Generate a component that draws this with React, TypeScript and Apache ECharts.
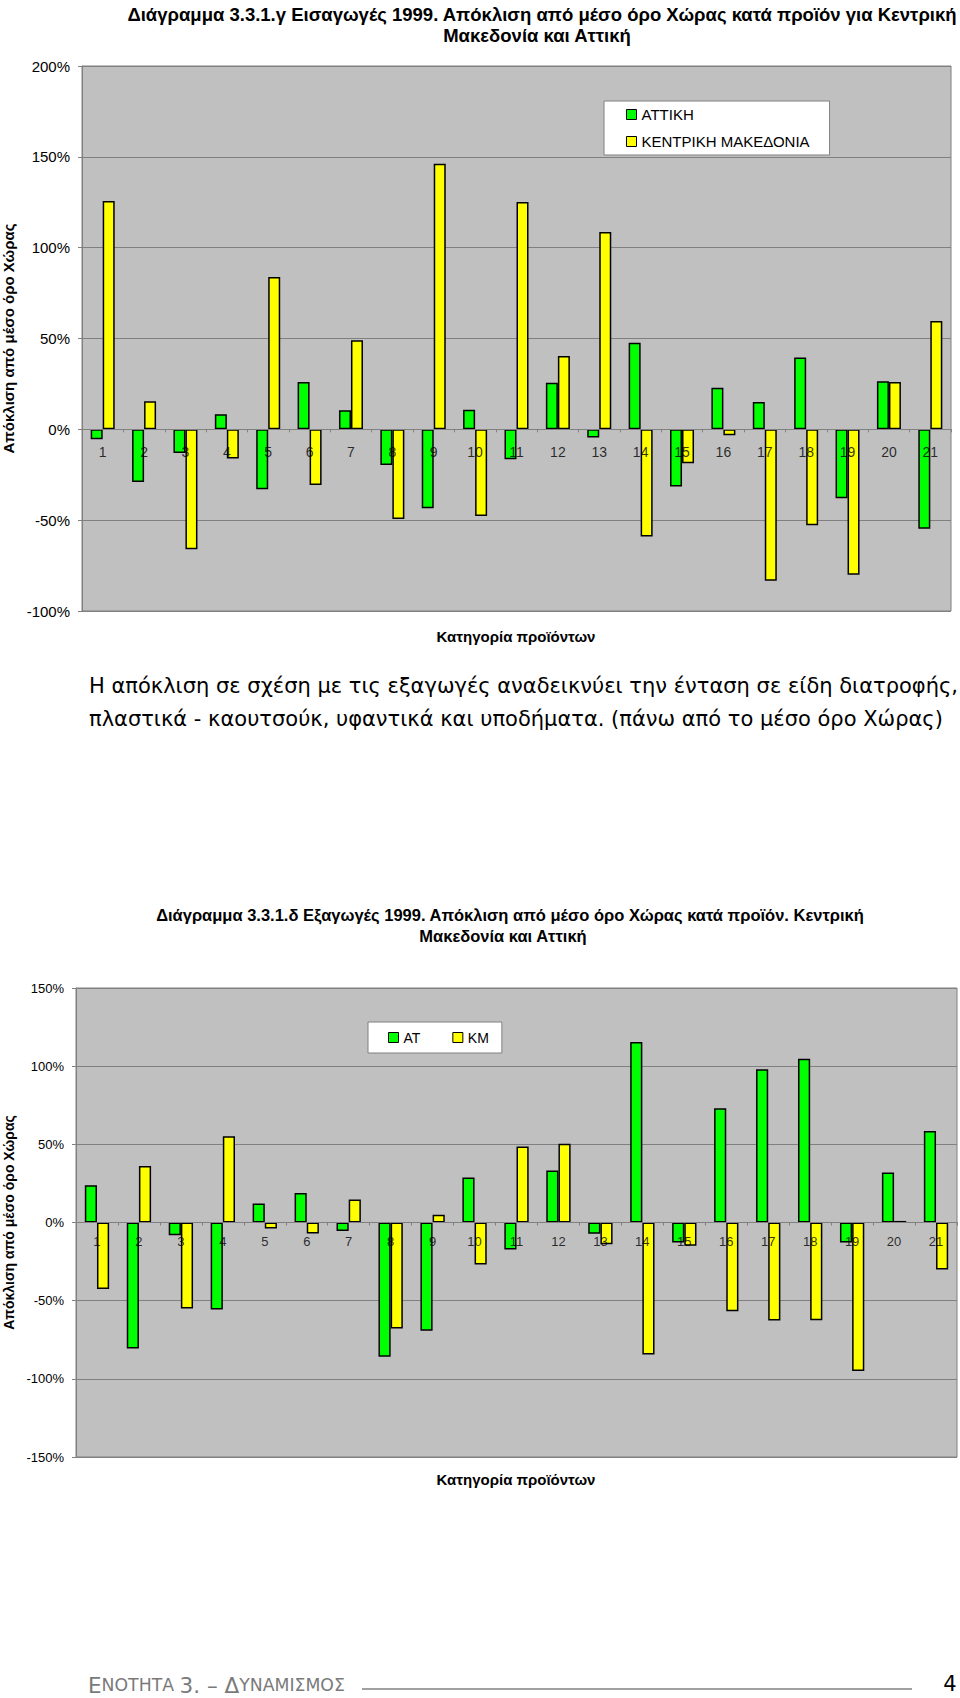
import React, { useEffect, useRef } from "react";
import * as echarts from "echarts";

const categories = ["1", "2", "3", "4", "5", "6", "7", "8", "9", "10", "11", "12", "13", "14", "15", "16", "17", "18", "19", "20", "21"];

// Chart 1: Imports 1999 (deviation from national average, %)
const importsAttiki = [-5.5, -29, -13, 8.3, -33, 26, 10.5, -19.6, -43.5, 10.8, -16.5, 25.7, -4.5, 47.7, -31.4, 22.9, 15, 39.6, -38, 26.4, -54.7];
const importsKMakedonia = [125.7, 15.4, -66, -16, 83.9, -30.6, 49, -49.4, 146.2, -47.7, 125.1, 40.4, 108.6, -59, -18.7, -3.3, -83.3, -52.8, -80, 26, 59.6];

// Chart 2: Exports 1999 (deviation from national average, %)
const exportsAT = [23.9, -80.6, -8.1, -55.7, 12.2, 18.8, -5.5, -85.9, -69.3, 28.8, -17.3, 33.3, -7.2, 115.4, -12.8, 73.1, 98.1, 104.7, -12.8, 32, 58.6];
const exportsKM = [-42.6, 36.2, -55, 55.2, -3.8, -7, 14.7, -67.8, 4.9, -26.9, 48.6, 50.3, -13.9, -84.4, -14.9, -56.7, -62.7, -62.5, -95, 1, -30];

// value at which the category axis crosses the value axis
const axisCross = 0;

const seriesNames1 = ["ΑΤΤΙΚΗ", "ΚΕΝΤΡΙΚΗ ΜΑΚΕΔΟΝΙΑ"];
const seriesNames2 = ["ΑΤ", "ΚΜ"];

const title1 = ["Διάγραμμα 3.3.1.γ Εισαγωγές 1999. Απόκλιση από μέσο όρο Χώρας κατά προϊόν για Κεντρική", "Μακεδονία και Αττική"];
const title2 = ["Διάγραμμα 3.3.1.δ Εξαγωγές 1999. Απόκλιση από μέσο όρο Χώρας κατά προϊόν. Κεντρική", "Μακεδονία και Αττική"];
const paragraph = [
  "Η απόκλιση σε σχέση με τις εξαγωγές αναδεικνύει την ένταση σε είδη διατροφής,",
  "πλαστικά - καουτσούκ, υφαντικά και υποδήματα. (πάνω από το μέσο όρο Χώρας)",
];
const xAxisName = "Κατηγορία προϊόντων";
const yAxisName = "Απόκλιση από μέσο όρο Χώρας";

const GREEN = "#00FF00";
const YELLOW = "#FFFF00";
const GRID_GRAY = "#808080";
const FONT = "Liberation Sans";
const BODY_FONT = "DejaVu Sans";

function valueAxis(gridIndex: number, min: number, max: number, fontSize: number, nameGap: number, nameSize: number) {
  return {
    type: "value",
    gridIndex,
    min,
    max,
    interval: 50,
    axisLine: { show: true, lineStyle: { color: GRID_GRAY, width: 1 } },
    axisTick: { show: true, length: 4, lineStyle: { color: GRID_GRAY } },
    axisLabel: { formatter: "{value}%", fontSize, fontFamily: FONT, color: "#000", margin: 12 },
    splitLine: { show: true, lineStyle: { color: GRID_GRAY, width: 1 } },
    name: yAxisName,
    nameLocation: "middle",
    nameRotate: 90,
    nameGap,
    nameTextStyle: { fontSize: nameSize, fontWeight: "bold", fontFamily: FONT, color: "#000" },
  };
}

function categoryAxis(gridIndex: number) {
  return {
    type: "category",
    gridIndex,
    data: categories,
    z: 5,
    axisLine: { show: true, onZero: true, lineStyle: { color: GRID_GRAY, width: 1 } },
    axisTick: { show: true, length: 3, lineStyle: { color: GRID_GRAY } },
    axisLabel: { show: false },
    splitLine: { show: false },
  };
}

function barSeries(name: string, data: number[], color: string, axis: number) {
  return {
    type: "bar",
    name,
    data,
    xAxisIndex: axis,
    yAxisIndex: axis,
    barGap: "0%",
    barCategoryGap: "42%",
    itemStyle: { color, borderColor: "#000", borderWidth: 1.5 },
    emphasis: { disabled: true },
  };
}

// category labels sitting just under the zero line (as in the Excel original)
function categoryLabels(axis: number, fontSize: number, distance: number) {
  return {
    type: "scatter",
    xAxisIndex: axis,
    yAxisIndex: axis,
    data: categories.map((c) => [c, axisCross]),
    symbolSize: 1,
    itemStyle: { color: "rgba(0,0,0,0)" },
    silent: true,
    z: 6,
    label: {
      show: true,
      position: "bottom",
      distance,
      formatter: (p: any) => p.value[0],
      fontSize,
      fontFamily: FONT,
      color: "#000",
    },
    emphasis: { disabled: true },
  };
}

function legend(names: string[], extra: any) {
  return {
    data: names,
    icon: "rect",
    itemWidth: 10,
    itemHeight: 10,
    backgroundColor: "#FFFFFF",
    borderColor: GRID_GRAY,
    borderWidth: 1,
    selectedMode: false,
    itemStyle: { borderColor: "#000", borderWidth: 1 },
    ...extra,
  };
}

function text(x: number, y: number, t: string, font: string, align = "center", fill = "#000") {
  return {
    type: "text",
    x,
    y,
    style: { text: t, font, textAlign: align, textVerticalAlign: "middle", fill },
  };
}

export default function App() {
  const ref = useRef<HTMLDivElement>(null);

  useEffect(() => {
    if (!ref.current) return;
    const chart = echarts.init(ref.current, null, { renderer: "svg" });
    const gridCommon = {
      show: true,
      backgroundColor: "#C0C0C0",
      borderColor: GRID_GRAY,
      borderWidth: 1,
      containLabel: false,
      outerBoundsMode: "none",
    };
    const option: any = {
      animation: false,
      backgroundColor: "#FFFFFF",
      grid: [
        { left: 82, top: 66, right: 9, height: 545, ...gridCommon },
        { left: 76, top: 988, right: 3, height: 469, ...gridCommon },
      ],
      xAxis: [categoryAxis(0), categoryAxis(1)],
      yAxis: [valueAxis(0, -100, 200, 15, 60, 15), valueAxis(1, -150, 150, 13, 57, 14)],
      legend: [
        legend(seriesNames1, {
          orient: "vertical",
          left: 604,
          top: 101,
          padding: [6, 20, 6, 22],
          itemGap: 12,
          textStyle: { fontFamily: FONT, fontSize: 15, color: "#000", lineHeight: 15 },
        }),
        legend(seriesNames2, {
          orient: "horizontal",
          left: 368,
          top: 1022,
          padding: [8, 13, 8, 20],
          itemGap: 32,
          textStyle: { fontFamily: FONT, fontSize: 14, color: "#000", lineHeight: 15 },
        }),
      ],
      series: [
        barSeries(seriesNames1[0], importsAttiki, GREEN, 0),
        barSeries(seriesNames1[1], importsKMakedonia, YELLOW, 0),
        barSeries(seriesNames2[0], exportsAT, GREEN, 1),
        barSeries(seriesNames2[1], exportsKM, YELLOW, 1),
        categoryLabels(0, 14, 15),
        categoryLabels(1, 13, 12),
      ],
      graphic: [
        text(542, 14, title1[0], `bold 18.5px "${FONT}"`),
        text(537, 35, title1[1], `bold 18.5px "${FONT}"`),
        text(516, 636, xAxisName, `bold 15px "${FONT}"`),
        text(89, 686, paragraph[0], `21px "${BODY_FONT}"`, "left"),
        text(89, 719, paragraph[1], `21px "${BODY_FONT}"`, "left"),
        text(510, 915, title2[0], `bold 16.5px "${FONT}"`),
        text(503, 936, title2[1], `bold 16.5px "${FONT}"`),
        text(516, 1479, xAxisName, `bold 15px "${FONT}"`),
        {
          type: "text",
          x: 88,
          y: 1696,
          style: {
            text: "{b|Ε}{s|ΝΟΤΗΤΑ }{b|3. – Δ}{s|ΥΝΑΜΙΣΜΟΣ}",
            textVerticalAlign: "bottom",
            rich: {
              b: { fontSize: 21.5, fontFamily: BODY_FONT, fill: "#7A7A7A", color: "#7A7A7A" },
              s: { fontSize: 17.3, fontFamily: BODY_FONT, fill: "#7A7A7A", color: "#7A7A7A" },
            },
          },
        },
        {
          type: "line",
          shape: { x1: 362, y1: 1689, x2: 912, y2: 1689 },
          style: { stroke: "#808080", lineWidth: 1.5 },
        },
        text(950, 1684, "4", `21px "${BODY_FONT}"`),
      ],
    };
    chart.setOption(option);
    return () => chart.dispose();
  }, []);

  return <div ref={ref} style={{ position: "absolute", left: 0, top: 0, width: 960, height: 1698 }} />;
}
